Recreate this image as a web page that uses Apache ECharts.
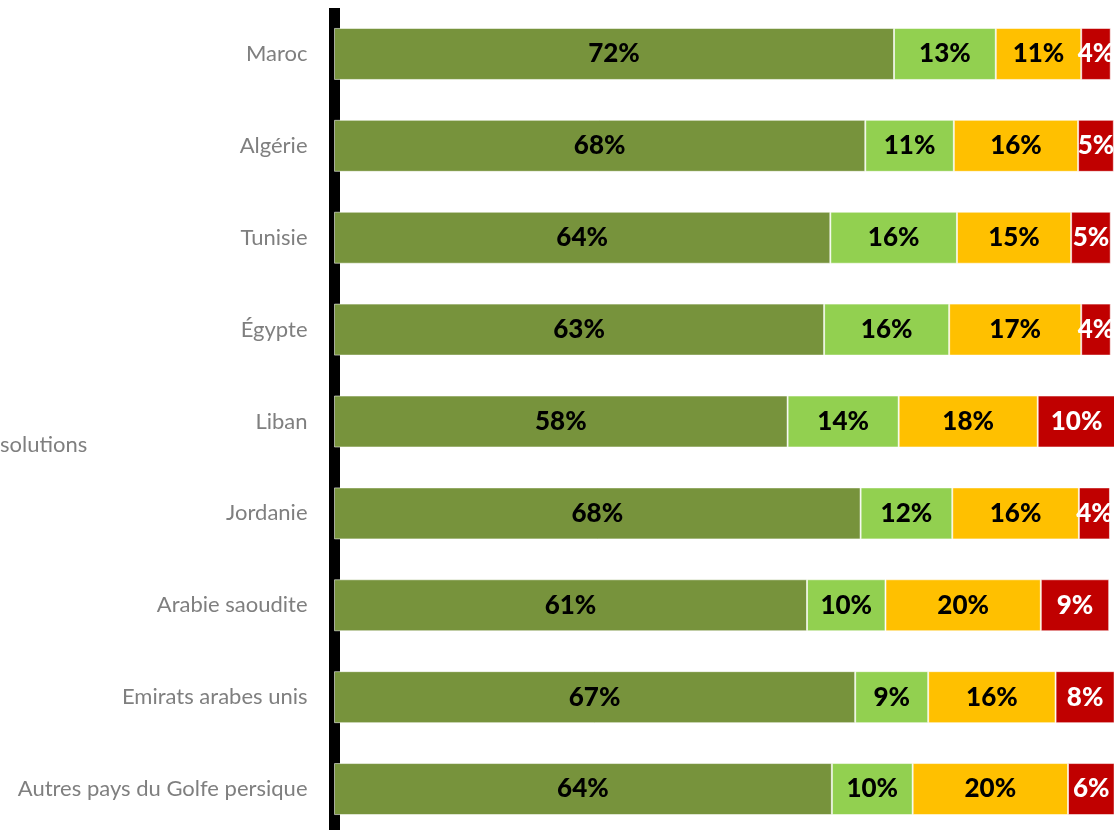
<!DOCTYPE html>
<html>
<head>
<meta charset="utf-8">
<script src="https://cdn.jsdelivr.net/npm/echarts@6/dist/echarts.min.js"></script>
<style>
html,body{margin:0;padding:0;background:#fff;}
#chart{width:1114px;height:830px;}
</style>
</head>
<body>
<div id="chart"></div>
<script>
const categories = ['Maroc','Algérie','Tunisie','Égypte','Liban','Jordanie','Arabie saoudite','Emirats arabes unis','Autres pays du Golfe persique'];
const seriesA = [72.1, 68.4, 63.9, 63.1, 58.4, 67.8, 60.9, 67.1, 64.1];
const seriesB = [13.1, 11.4, 16.3, 16.1, 14.3, 11.8, 10.1, 9.4, 10.4];
const seriesC = [11.0, 16.0, 14.7, 17.0, 17.9, 16.3, 20.0, 16.4, 20.0];
const seriesD = [3.8, 4.6, 5.1, 3.8, 10.0, 4.0, 8.8, 7.6, 6.0];
const axisNameText = 'solutions';

const colors = ['#77933C', '#92D050', '#FFC000', '#C00000'];
const labelColors = ['#000', '#000', '#000', '#fff'];
const FONT = 'Lato';

function mk(data, i) {
  return {
    type: 'bar',
    stack: 'total',
    data: data,
    barWidth: 52,
    clip: false,
    itemStyle: { color: colors[i], borderColor: 'rgba(255,255,255,0.55)', borderWidth: 1 },
    label: {
      show: true,
      position: 'inside',
      color: labelColors[i],
      fontFamily: FONT,
      fontWeight: 900,
      fontSize: 26,
      formatter: p => Math.round(p.value) + '%'
    }
  };
}

const chart = echarts.init(document.getElementById('chart'), null, { renderer: 'canvas' });
chart.setOption({
  animation: false,
  backgroundColor: '#fff',
  grid: { left: 334, top: 8, width: 807.8, height: 827, containLabel: false, outerBoundsMode: 'none' },
  xAxis: { type: 'value', min: 0, max: 104, show: false },
  yAxis: {
    type: 'category',
    data: categories,
    inverse: true,
    offset: 5.5,
    axisLine: { show: true, lineStyle: { color: '#000', width: 11, cap: 'butt' } },
    axisTick: { show: false },
    axisLabel: { color: '#7f7f7f', fontFamily: FONT, fontSize: 22, margin: 21 },
    splitLine: { show: false }
  },
  graphic: [{
    type: 'text', left: 0, top: 434,
    style: { text: axisNameText, fill: '#7f7f7f', font: '22px ' + FONT }
  }],
  series: [mk(seriesA, 0), mk(seriesB, 1), mk(seriesC, 2), mk(seriesD, 3)]
});
</script>
</body>
</html>
